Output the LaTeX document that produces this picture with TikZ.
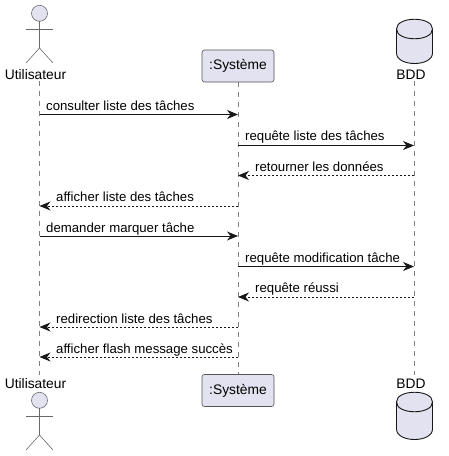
\documentclass[tikz,border=0pt]{standalone}
\usepackage{fontspec}
\setmainfont{Liberation Sans}
\usepackage{xcolor}
\usetikzlibrary{arrows.meta, positioning}

\definecolor{partfill}{HTML}{E2E2F0}
\definecolor{partline}{HTML}{181818}

\tikzset{
  partbox/.style={draw=partline!75, line width=0.6pt, fill=partfill, rounded corners=2.5pt, minimum width=72pt, minimum height=32pt, inner sep=0pt, font=\fontsize{13.8}{16}\selectfont},
  partlabel/.style={inner sep=0pt, font=\fontsize{13.8}{16}\selectfont},
  lifeline/.style={draw=partline!55, line width=0.6pt, dash pattern=on 5pt off 5pt},
  figure/.style={draw=partline!65, line width=0.6pt},
  barrel/.style={draw=partline, line width=0.9pt, fill=partfill},
  call/.style={draw=partline, line width=0.9pt, -{Stealth[length=11pt,width=9pt,inset=3.5pt]}},
  reply/.style={call, dash pattern=on 2pt off 2pt},
  msglabel/.style={anchor=base west, inner sep=0pt, font=\fontsize{13.2}{15}\selectfont}
}

\begin{document}
\begin{tikzpicture}[x=1pt,y=-1pt]
\useasboundingbox (0,0) rectangle (448,456);

% lifelines first, the boxes sit on them
\coordinate (userTop) at (39.5,81);
\coordinate (userBot) at (39.5,375);
\coordinate (sysTop) at (238,82);
\coordinate (sysBot) at (238,374);
\coordinate (bddTop) at (414,81);
\coordinate (bddBot) at (414,375);
\draw[lifeline] (userTop) -- (userBot);
\draw[lifeline] (sysTop) -- (sysBot);
\draw[lifeline] (bddTop) -- (bddBot);

% participants
\node[partbox] (sysUp) at (238,66) {:Système};
\node[partbox] (sysDown) at (238,390.5) {:Système};
\node[partlabel] (userUp) at (35.5,75) {Utilisateur};
\node[partlabel] (userDown) at (35.5,384) {Utilisateur};
\node[partlabel] (bddUp) at (411,75) {BDD};
\node[partlabel] (bddDown) at (411,384) {BDD};

% actors
\foreach \yo in {0,387} {
  \draw[figure, fill=partfill] (39.5,13.3+\yo) circle (8);
  \draw[figure] (39.5,21.3+\yo) -- (39.5,48+\yo);
  \draw[figure] (26,29+\yo) -- (53,29+\yo);
  \draw[figure] (26,63+\yo) -- (39.5,48+\yo) -- (53,63+\yo);
}

% databases
\draw[barrel] (396.5,29) .. controls (396.5,16) and (432.5,16) .. (432.5,29)
  -- (432.5,53) .. controls (432.5,67) and (396.5,67) .. (396.5,53) -- cycle;
\draw[barrel, fill=none] (396.5,29) .. controls (396.5,42) and (432.5,42) .. (432.5,29);
\draw[barrel] (396.5,402) .. controls (396.5,389) and (432.5,389) .. (432.5,402)
  -- (432.5,429) .. controls (432.5,443) and (396.5,443) .. (396.5,429) -- cycle;
\draw[barrel, fill=none] (396.5,402) .. controls (396.5,415) and (432.5,415) .. (432.5,402);

% message ends on the lifelines
\foreach \n/\y in {1/114.5,2/145.5,3/175.5,4/206,5/236,6/266.5,7/297,8/327,9/357} {
  \coordinate (u\n) at (39.5,\y);
  \coordinate (s\n) at (238,\y);
  \coordinate (b\n) at (414,\y);
}

\draw[call] (u1) -- (s1);
\draw[call] (s2) -- (b2);
\draw[reply] (b3) -- (s3);
\draw[reply] (s4) -- (u4);
\draw[call] (u5) -- (s5);
\draw[call] (s6) -- (b6);
\draw[reply] (b7) -- (s7);
\draw[reply] (s8) -- (u8);
\draw[reply] (s9) -- (u9);

\node[msglabel] (m1) at (46,110) {consulter liste des tâches};
\node[msglabel] (m2) at (245,140) {requête liste des tâches};
\node[msglabel] (m3) at (255,171) {retourner les données};
\node[msglabel] (m4) at (56,201) {afficher liste des tâches};
\node[msglabel] (m5) at (46,232) {demander marquer tâche};
\node[msglabel] (m6) at (245,262) {requête modification tâche};
\node[msglabel] (m7) at (255,292) {requête réussi};
\node[msglabel] (m8) at (56,323) {redirection liste des tâches};
\node[msglabel] (m9) at (56,353) {afficher flash message succès};
\end{tikzpicture}
\end{document}
